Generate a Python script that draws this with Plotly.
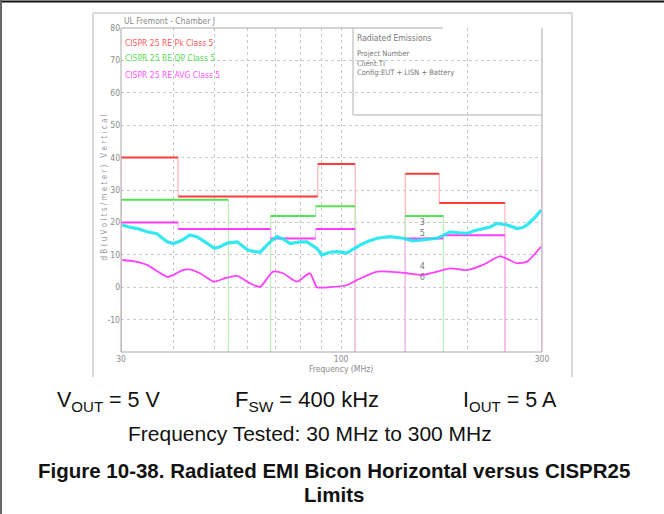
import numpy as np
import plotly.graph_objects as go

# ---------------- data ----------------
# CISPR 25 class 5 limit bands (MHz, dBuV/m)
PK_START = [30, 41, 88, 142, 171]
PK_STOP = [41, 88, 108, 171, 245]
PK_LEVEL = [40, 28, 38, 35, 26]

QP_START = [30, 68, 87, 142]
QP_STOP = [54, 87, 108, 175]
QP_LEVEL = [27, 22, 25, 22]

AVG_START = [30, 41, 68, 87, 142, 175]
AVG_STOP = [41, 68, 87, 108, 175, 245]
AVG_LEVEL = [20, 18, 15, 18, 15, 16]

# measured peak trace (cyan)
PEAK_FREQ = [30.2, 31.5, 33.0, 34.6, 36.5, 38.6, 40.0, 41.9, 43.7, 45.4, 47.5, 50.0, 51.6,
             53.6, 56.6, 60.0, 62.4, 64.2, 67.8, 70.4, 73.0, 75.6, 80.0, 82.9, 87.6, 90.0,
             94.1, 97.8, 103.0, 110.9, 116.0, 121.7, 130.6, 140.3, 148.0, 156.0, 169.0,
             175.0, 181.4, 190.0, 199.0, 208.0, 217.3, 226.0, 234.6, 247.9, 261.7, 270.0,
             276.4, 288.7, 298.3]
PEAK_DB = [19.2, 18.5, 18.0, 17.1, 16.5, 14.0, 13.5, 14.5, 16.1, 15.6, 14.0, 12.0, 12.5,
           13.6, 14.0, 11.5, 11.0, 10.8, 14.0, 15.6, 14.8, 13.5, 14.0, 14.0, 12.0, 9.9,
           10.8, 11.0, 10.5, 13.0, 14.2, 15.1, 15.6, 15.1, 14.3, 14.6, 15.1,
           16.0, 17.1, 16.8, 16.6, 17.5, 18.1, 18.6, 19.7, 19.2, 18.1, 18.4,
           19.2, 21.5, 23.8]

# measured average trace (magenta)
AVG_FREQ = [30.2, 32.3, 34.6, 36.5, 38.6, 40.0, 41.9, 43.7, 46.2, 48.2, 50.0, 53.0,
            56.6, 60.7, 64.2, 68.9, 72.8, 78.5, 84.3, 87.6, 94.1, 103.0, 109.0,
            121.7, 130.6, 143.4, 156.0, 169.0, 181.4, 199.0, 217.3, 238.5, 261.7,
            276.4, 298.3]
AVG_DB = [8.4, 8.0, 6.9, 5.0, 3.2, 3.8, 5.2, 5.5, 4.3, 2.8, 1.7, 2.8,
          3.5, 1.2, 0.1, 4.8, 4.3, 1.7, 4.3, 0.0, 0.0, 0.6, 2.2,
          4.8, 4.8, 4.3, 3.8, 4.8, 5.8, 5.3, 6.9, 9.5, 7.4,
          7.9, 12.5]

MARKER_LABELS = ["3", "5", "4", "6"]
MARKER_FREQ = [156, 156, 156, 156]
MARKER_DB = [19.8, 16.4, 6.2, 3.0]

Y_TICKS = [80, 70, 60, 50, 40, 30, 20, 10, 0, -10]
Y_TICK_TEXT = ["80", "70", "60", "50", "40", "30", "20", "10", "0", "-10"]
X_TICKS = [30, 100, 300]
X_TICK_TEXT = ["30", "100", "300"]
X_GRID = [40, 50, 60, 70, 80, 90, 100, 200]

YMIN, YMAX = -20, 80
XMIN, XMAX = 30, 300

PLOT_FONT = "DejaVu Sans Condensed, Liberation Sans Narrow, Roboto Condensed, sans-serif"
GRAY = "#8a8a8a"


def limit_segments(starts, stops, levels):
    """Return horizontal and vertical segment coordinate lists (None separated)."""
    hx, hy, vx, vy = [], [], [], []
    n = len(starts)
    for i in range(n):
        hx += [starts[i], stops[i], None]
        hy += [levels[i], levels[i], None]
        if i == 0 or starts[i] != stops[i - 1]:
            vx += [starts[i], starts[i], None]
            vy += [YMIN, levels[i], None]
        else:
            vx += [starts[i], starts[i], None]
            vy += [levels[i - 1], levels[i], None]
        if i == n - 1 or starts[i + 1] != stops[i]:
            vx += [stops[i], stops[i], None]
            vy += [levels[i], YMIN, None]
    return hx, hy, vx, vy


fig = go.Figure()

limits = [
    (PK_START, PK_STOP, PK_LEVEL, "#ff3c3c", "#ffb4b4"),
    (QP_START, QP_STOP, QP_LEVEL, "#55e055", "#b6f2b6"),
    (AVG_START, AVG_STOP, AVG_LEVEL, "#ff3cff", "#ffb4ff"),
]
for s, e, l, hc, vc in limits:
    hx, hy, vx, vy = limit_segments(s, e, l)
    fig.add_trace(go.Scatter(x=vx, y=vy, mode="lines", line=dict(color=vc, width=1.2),
                             hoverinfo="skip", showlegend=False))
    fig.add_trace(go.Scatter(x=hx, y=hy, mode="lines", line=dict(color=hc, width=2),
                             hoverinfo="skip", showlegend=False))

fig.add_trace(go.Scatter(x=[300, 300], y=[YMIN, 40], mode="lines",
                         line=dict(color="#ffb4ff", width=1.2), showlegend=False))

fig.add_trace(go.Scatter(x=PEAK_FREQ, y=PEAK_DB, mode="lines",
                         line=dict(color="#1ee6ee", width=3.2), opacity=0.9,
                         showlegend=False))
fig.add_trace(go.Scatter(x=AVG_FREQ, y=AVG_DB, mode="lines",
                         line=dict(color="#ff40ff", width=1.8, shape="spline", smoothing=0.6),
                         showlegend=False))

fig.add_trace(go.Scatter(x=MARKER_FREQ, y=MARKER_DB, mode="text", text=MARKER_LABELS,
                         textfont=dict(family=PLOT_FONT, size=9, color="#777777"),
                         showlegend=False))

annotations = []

L, R, T, B = 121, 542, 28, 352
W, H = 664, 514


def px(x):
    return (x - L) / (R - L)


def py(y):
    return (B - y) / (B - T)


def txt(x, y, text, size=9, color=GRAY, xanchor="left", family=PLOT_FONT, **kw):
    annotations.append(dict(x=px(x), y=py(y), xref="paper", yref="paper", text=text,
                            showarrow=False, xanchor=xanchor, yanchor="middle",
                            font=dict(family=family, size=size, color=color), **kw))


txt(122, 21, "UL Fremont - Chamber J", size=8.5)
txt(123, 43, "CISPR 25 RE Pk Class 5", size=8.5, color="#ff5a5a")
txt(123, 58, "CISPR 25 RE QP Class 5", size=8.5, color="#55e055")
txt(123, 75, "CISPR 25 RE AVG Class 5", size=8.5, color="#ff55ff")
txt(355, 38, "Radiated Emissions", size=8.5, color="#777777")
txt(355, 53, "Project Number", size=7.5, color="#777777")
txt(355, 63, "Client:TI", size=7.5, color="#777777")
txt(355, 73, "Config:EUT + LISN + Battery", size=7.5, color="#777777")
txt(341, 369, "Frequency (MHz)", size=8.5, xanchor="center")
annotations.append(dict(x=px(97), y=py(188), xref="paper", yref="paper",
                        text="d B ( u V o l t s / m e t e r )   V e r t i c a l", showarrow=False,
                        textangle=-90, font=dict(family=PLOT_FONT, size=8, color="#999999")))

BODY = "Liberation Sans, Arial, sans-serif"
txt(55, 401, "V<sub>OUT</sub> = 5 V", size=21.5, color="#111111", family=BODY)
txt(233, 401, "F<sub>SW</sub> = 400 kHz", size=22, color="#111111", family=BODY)
txt(461, 401, "I<sub>OUT</sub> = 5 A", size=21.5, color="#111111", family=BODY)
txt(310, 433, "Frequency Tested: 30 MHz to 300 MHz", size=21, color="#111111",
    xanchor="center", family=BODY)
txt(334, 470, "<b>Figure 10-38. Radiated EMI Bicon Horizontal versus CISPR25</b>",
    size=20.5, color="#111111", xanchor="center", family=BODY)
txt(334, 494, "<b>Limits</b>", size=20.5, color="#111111", xanchor="center", family=BODY)

shapes = []


def line(x0, y0, x1, y1, color="#a8a8a8", width=1):
    shapes.append(dict(type="line", xref="paper", yref="paper", x0=px(x0), y0=py(y0),
                       x1=px(x1), y1=py(y1), line=dict(color=color, width=width)))


line(93, 13, 572, 13, "#b5b5b5")
line(93, 13, 93, 377, "#b5b5b5")
line(572, 13, 572, 377, "#b5b5b5")
line(121, 28, 121, 352)
line(121, 352, 542, 352)
line(121, 28, 443, 28)
line(542, 28, 542, 352)
line(353, 28, 353, 115, "#b0b0b0")
line(353, 115, 542, 115, "#b0b0b0")
line(0, 1.5, 664, 1.5, "#111111", 2)
line(1, 0, 1, 514, "#666666", 2)

fig.update_layout(
    width=W, height=H,
    margin=dict(l=L, r=W - R, t=T, b=H - B, autoexpand=False),
    paper_bgcolor="white", plot_bgcolor="white",
    showlegend=False,
    hovermode=False,
    annotations=annotations,
    shapes=shapes,
    xaxis=dict(type="log", range=[np.log10(XMIN), np.log10(XMAX)],
               tickvals=X_TICKS, ticktext=X_TICK_TEXT, showgrid=False,
               minor=dict(tickvals=X_GRID, showgrid=True, gridcolor="#c8c8c8",
                          griddash="dot", gridwidth=1, ticks=""),
               zeroline=False, showline=False, ticks="", automargin=False,
               tickfont=dict(family=PLOT_FONT, size=8.5, color=GRAY)),
    yaxis=dict(range=[YMIN, YMAX], tickvals=Y_TICKS, ticktext=Y_TICK_TEXT, showgrid=True,
               gridcolor="#c8c8c8", griddash="dot", gridwidth=1, zeroline=False,
               showline=False, ticks="", automargin=False,
               tickfont=dict(family=PLOT_FONT, size=8.5, color=GRAY)),
)

fig.write_html("out.html", config={"displayModeBar": False},
               post_script="document.body.style.margin='0';document.body.style.padding='0';")
